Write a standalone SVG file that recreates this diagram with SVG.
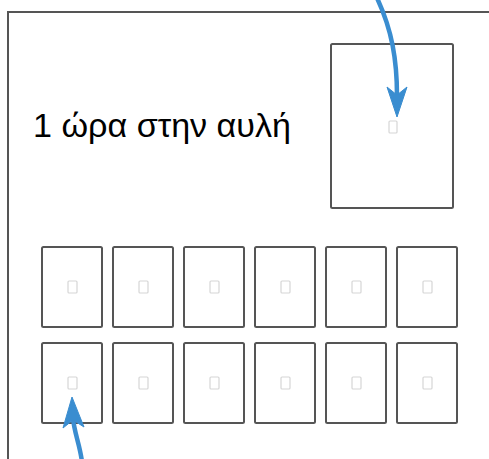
<svg xmlns="http://www.w3.org/2000/svg" width="489" height="459" viewBox="0 0 489 459">
<defs>
<style>
.box{fill:#fff;stroke:#555;stroke-width:2}
.ico{fill:none;stroke:#d6d6d6;stroke-width:1.2}
.frame{fill:none;stroke:#555;stroke-width:2}
.arr{fill:none;stroke:#3a8dd0;stroke-width:4.5}
.head{fill:#3a8dd0;stroke:#3a8dd0;stroke-width:1;stroke-linejoin:round}
.lbl{font-family:"Liberation Sans",Arial,sans-serif;font-size:33px;fill:#000}
</style>
</defs>
<rect width="489" height="459" fill="#fff"/>
<g id="frame"><path class="frame" d="M8,470 L8,12 L500,12"/></g>
<g id="label"><text class="lbl" x="33" y="137" textLength="258" lengthAdjust="spacingAndGlyphs">1 ώρα στην αυλή</text></g>
<g id="big"><rect class="box" x="331" y="44" width="122" height="164" rx="1.5"/><rect class="ico" x="389" y="121" width="8" height="12" rx="1"/></g>
<g id="r1c1"><rect class="box" x="42" y="247" width="60" height="80" rx="1.5"/><rect class="ico" x="68" y="281" width="9" height="12" rx="1"/></g>
<g id="r1c2"><rect class="box" x="113" y="247" width="60" height="80" rx="1.5"/><rect class="ico" x="139" y="281" width="9" height="12" rx="1"/></g>
<g id="r1c3"><rect class="box" x="184" y="247" width="60" height="80" rx="1.5"/><rect class="ico" x="210" y="281" width="9" height="12" rx="1"/></g>
<g id="r1c4"><rect class="box" x="255" y="247" width="60" height="80" rx="1.5"/><rect class="ico" x="281" y="281" width="9" height="12" rx="1"/></g>
<g id="r1c5"><rect class="box" x="326" y="247" width="60" height="80" rx="1.5"/><rect class="ico" x="352" y="281" width="9" height="12" rx="1"/></g>
<g id="r1c6"><rect class="box" x="397" y="247" width="60" height="80" rx="1.5"/><rect class="ico" x="423" y="281" width="9" height="12" rx="1"/></g>
<g id="r2c1"><rect class="box" x="42" y="343" width="60" height="80" rx="1.5"/><rect class="ico" x="68" y="377" width="9" height="12" rx="1"/></g>
<g id="r2c2"><rect class="box" x="113" y="343" width="60" height="80" rx="1.5"/><rect class="ico" x="139" y="377" width="9" height="12" rx="1"/></g>
<g id="r2c3"><rect class="box" x="184" y="343" width="60" height="80" rx="1.5"/><rect class="ico" x="210" y="377" width="9" height="12" rx="1"/></g>
<g id="r2c4"><rect class="box" x="255" y="343" width="60" height="80" rx="1.5"/><rect class="ico" x="281" y="377" width="9" height="12" rx="1"/></g>
<g id="r2c5"><rect class="box" x="326" y="343" width="60" height="80" rx="1.5"/><rect class="ico" x="352" y="377" width="9" height="12" rx="1"/></g>
<g id="r2c6"><rect class="box" x="397" y="343" width="60" height="80" rx="1.5"/><rect class="ico" x="423" y="377" width="9" height="12" rx="1"/></g>
<g id="connectors">
<path class="arr" d="M377,-2 C392,30 397,60 397,96"/>
<path class="head" d="M397,117 L387,87 L397,95 L407,87 Z"/>
<path class="arr" d="M82,462 C80,445 74,432 73,418"/>
<path class="head" d="M72,397 L63,428 L73,420 L84,427 Z"/>
</g>
</svg>
